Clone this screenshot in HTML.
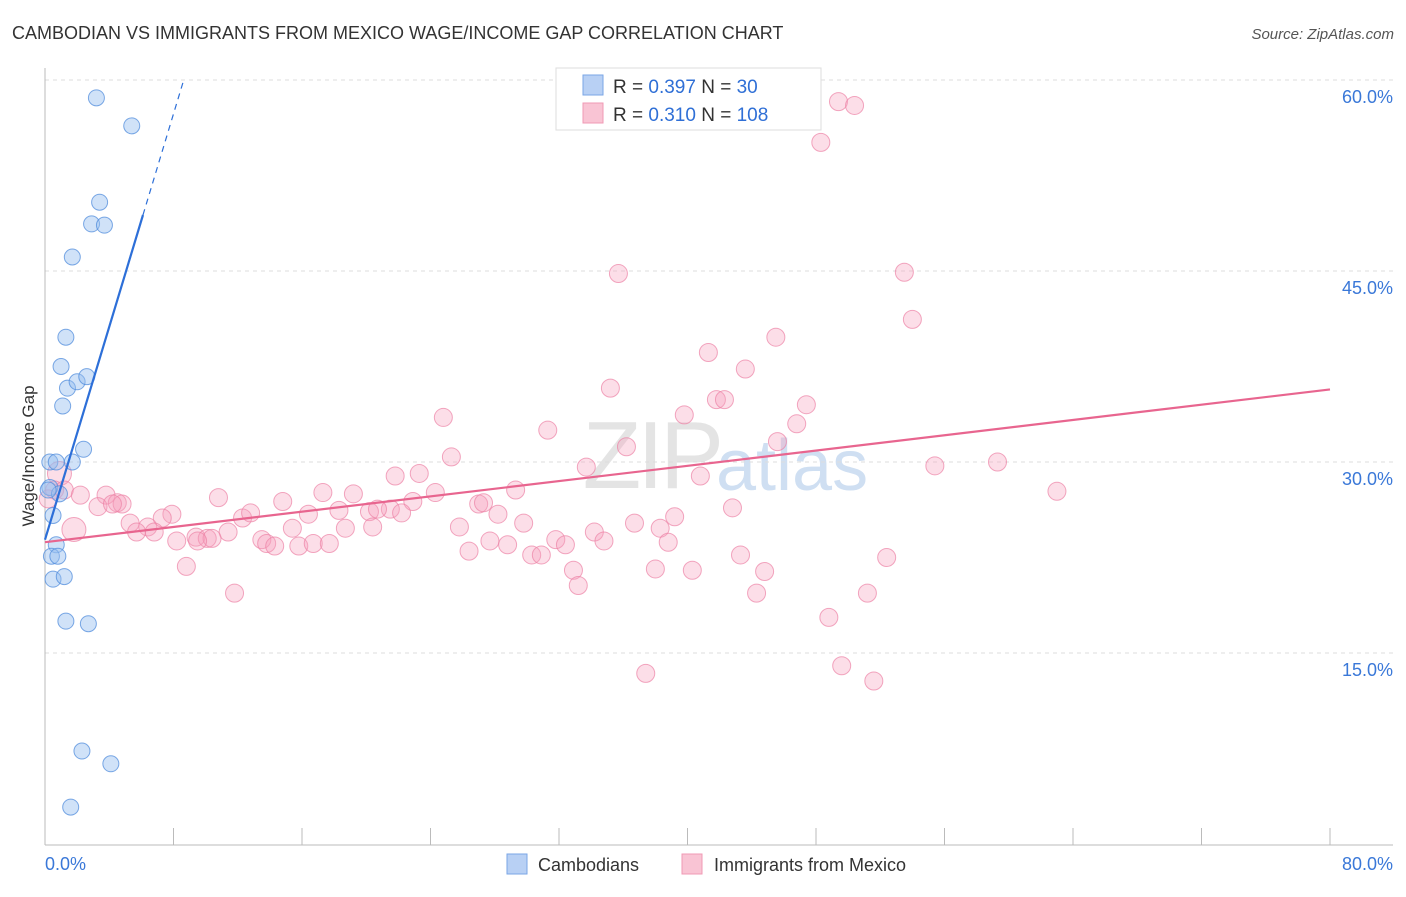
<!DOCTYPE html>
<html><head><meta charset="utf-8">
<style>
body{margin:0;background:#fff;font-family:"Liberation Sans",sans-serif;}
svg text{font-family:"Liberation Sans",sans-serif;}
</style></head>
<body>
<svg id="chart" width="1406" height="892" xmlns="http://www.w3.org/2000/svg">
<text x="12" y="39" font-size="18" fill="#333">CAMBODIAN VS IMMIGRANTS FROM MEXICO WAGE/INCOME GAP CORRELATION CHART</text>
<text x="1394" y="39" font-size="15" fill="#555" text-anchor="end" font-style="italic">Source: ZipAtlas.com</text>
<text x="720" y="488" font-size="96" fill="#e4e4e4" text-anchor="end" font-family="Liberation Serif" letter-spacing="-4">ZIP</text>
<text x="716" y="490" font-size="72" fill="#cfdff2">atlas</text>
<g id="grid"></g>
<g id="axes"></g>
<g id="pink"></g>
<g id="blue"></g>
<g id="lines"></g>
<text transform="translate(34,456) rotate(-90)" font-size="17" fill="#333" text-anchor="middle">Wage/Income Gap</text>
<g>
<rect x="556" y="68" width="265" height="62" fill="#fff" stroke="#ddd"/>
<rect x="583" y="75" width="20" height="20" fill="#b8d0f4" stroke="#7aa6e6"/>
<rect x="583" y="103" width="20" height="20" fill="#f9c4d4" stroke="#f09ab4"/>
<text x="613" y="93" font-size="19" fill="#333">R = <tspan fill="#2f6fd6">0.397</tspan>   N =  <tspan fill="#2f6fd6"> 30</tspan></text>
<text x="613" y="121" font-size="19" fill="#333">R = <tspan fill="#2f6fd6">0.310</tspan>   N = <tspan fill="#2f6fd6">108</tspan></text>
</g>
<g>
<rect x="507" y="854" width="20" height="20" fill="#b8d0f4" stroke="#7aa6e6"/>
<text x="538" y="871" font-size="18" fill="#333">Cambodians</text>
<rect x="682" y="854" width="20" height="20" fill="#f9c4d4" stroke="#f09ab4"/>
<text x="714" y="871" font-size="18" fill="#333">Immigrants from Mexico</text>
</g>
</svg>
<script>
const blueX=[3.2,5.4,3.4,2.9,3.7,1.7,1.3,1.0,1.4,2.0,2.6,1.1,2.4,1.7,0.3,0.7,0.3,0.9,0.5,0.7,0.4,0.8,0.5,1.2,1.3,2.7,2.3,4.1,1.6,0.2];
const blueY=[58.6,56.4,50.4,48.7,48.6,46.1,39.8,37.5,35.8,36.3,36.7,34.4,31.0,30.0,30.0,30.0,28.0,27.5,25.8,23.5,22.6,22.6,20.8,21.0,17.5,17.3,7.3,6.3,2.9,27.8];
const pinkX=[49.4,50.4,46.2,48.3,35.7,53.5,54.0,41.3,45.5,43.6,35.2,41.8,42.3,47.4,39.8,24.8,46.8,31.3,45.6,36.2,25.3,33.7,55.4,59.3,40.8,23.3,21.8,63.0,0.9,0.6,1.2,2.2,24.3,17.3,19.2,29.3,3.8,4.5,4.8,3.3,10.8,14.8,27.0,27.3,21.5,22.9,18.3,20.2,22.2,20.7,16.4,28.2,12.3,12.8,7.9,7.3,5.3,6.4,5.7,6.8,11.4,9.4,10.1,10.4,8.2,9.5,36.7,38.3,39.2,42.8,29.8,25.8,18.7,15.4,13.5,13.8,14.3,15.8,16.7,17.7,20.4,27.7,28.8,31.8,32.4,34.2,34.8,38.8,1.8,26.4,30.3,30.9,43.3,52.4,8.8,32.9,38.0,40.3,44.8,33.2,11.8,44.3,51.2,48.8,49.6,37.4,51.6,4.2,0.2];
const pinkY=[58.3,58.0,56.9,55.1,44.8,44.9,41.2,38.6,39.8,37.3,35.8,34.9,34.9,34.5,33.7,33.5,33.0,32.5,31.6,31.2,30.4,29.6,29.7,30.0,28.9,29.1,28.9,27.7,29.1,27.8,27.8,27.4,27.6,27.6,27.5,27.8,27.4,26.8,26.7,26.5,27.2,26.9,26.7,26.8,26.3,26.9,26.2,26.1,26.0,26.3,25.9,25.9,25.6,26.0,25.9,25.6,25.2,24.9,24.5,24.5,24.5,24.1,24.0,24.0,23.8,23.8,25.2,24.8,25.7,26.4,25.2,24.9,24.8,24.8,23.9,23.6,23.4,23.4,23.6,23.6,24.9,23.8,23.5,23.9,23.5,24.5,23.8,23.7,24.7,23.0,22.7,22.7,22.7,22.5,21.8,21.5,21.6,21.5,21.4,20.3,19.7,19.7,19.7,17.8,14.0,13.4,12.8,26.7,27.1];
const pinkBig=[28,88];
const blueTrend=[25.2-1.3,4.18];   // intercept, slope
const pinkTrend=[25.0-1.3,0.15];
const yTicks=[15,30,45,60];
const xTickLabels=["0.0%","80.0%"];

const NS="http://www.w3.org/2000/svg";
const X=v=>45+v/80*1285;
const Y=v=>844-v*(191/15);
function mk(tag,attrs,parent){const e=document.createElementNS(NS,tag);for(const k in attrs)e.setAttribute(k,attrs[k]);document.getElementById(parent).appendChild(e);return e;}

const grid="grid";
yTicks.forEach(t=>{
  const l=mk("line",{x1:45,x2:1393,y1:Y(t),y2:Y(t),stroke:"#ddd","stroke-dasharray":"4,4"},grid);
  
  
  const tx=mk("text",{x:1393,y:Y(t)+23,"font-size":18,fill:"#3a78d8","text-anchor":"end"},grid);
  tx.textContent=t.toFixed(1)+"%";
  
  
});
const ya=mk("line",{x1:45,x2:45,y1:68,y2:845,stroke:"#bbb"},"axes");


const xa=mk("line",{x1:45,x2:1393,y1:845,y2:845,stroke:"#bbb"},"axes");


for(let i=0;i<=10;i++){
  const t=mk("line",{x1:X(i*8),x2:X(i*8),y1:828,y2:845,stroke:"#bbb"},"axes");
  
  
}
const l0=mk("text",{x:45,y:870,"font-size":18,fill:"#3a78d8"},"axes");l0.textContent=xTickLabels[0];


const l1=mk("text",{x:1393,y:870,"font-size":18,fill:"#3a78d8","text-anchor":"end"},"axes");l1.textContent=xTickLabels[1];



pinkX.forEach((x,i)=>{
  const c=mk("circle",{cx:X(x),cy:Y(pinkY[i]),r:pinkBig.includes(i)?12:9,fill:"rgba(245,160,188,0.35)",stroke:"rgba(236,130,165,0.7)","stroke-width":1},"pink");
  
  
});
blueX.forEach((x,i)=>{
  const c=mk("circle",{cx:X(x),cy:Y(blueY[i]),r:8,fill:"rgba(150,190,240,0.45)",stroke:"rgba(80,140,220,0.75)","stroke-width":1},"blue");
  
  
});
const bt=mk("line",{x1:X(0),y1:Y(blueTrend[0]),x2:X(6.1),y2:Y(blueTrend[0]+blueTrend[1]*6.1),stroke:"#2d6fd8","stroke-width":2.2},"lines");


const bd=mk("line",{x1:X(6.1),y1:Y(blueTrend[0]+blueTrend[1]*6.1),x2:X(8.6),y2:Y(blueTrend[0]+blueTrend[1]*8.6),stroke:"#2d6fd8","stroke-width":1.2,"stroke-dasharray":"6,5"},"lines");


const pt=mk("line",{x1:X(0),y1:Y(pinkTrend[0]),x2:X(80),y2:Y(pinkTrend[0]+pinkTrend[1]*80),stroke:"#e8658f","stroke-width":2.2},"lines");


</script>
</body></html>
